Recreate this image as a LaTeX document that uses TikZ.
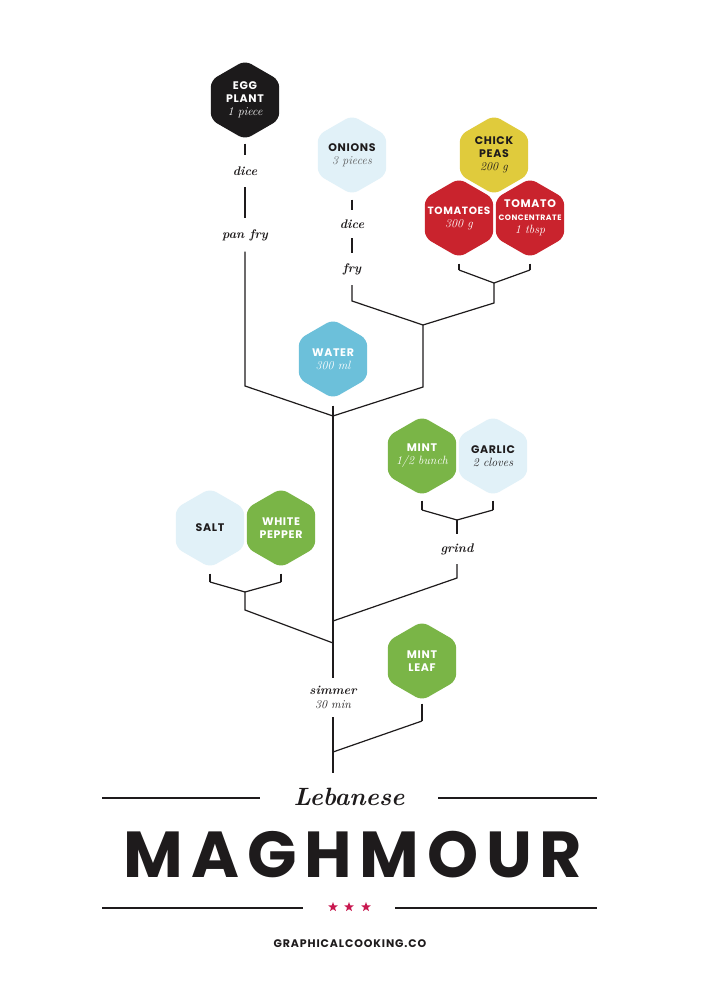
\documentclass[tikz,border=0pt]{standalone}
\usepackage{fontspec}
\usetikzlibrary{shapes.geometric}
\newfontfamily\capfont{Poppins}[LetterSpace=6]
\newfontfamily\titlefont{Poppins}[LetterSpace=12]
\newfontfamily\webfont{Poppins}[LetterSpace=8]
\definecolor{ink}{HTML}{1E1B1C}
\definecolor{eggc}{HTML}{1C1A1B}
\definecolor{paleblue}{HTML}{E1F1F8}
\definecolor{yellowc}{HTML}{E0CB3C}
\definecolor{redc}{HTML}{C9232D}
\definecolor{waterc}{HTML}{6CC0DA}
\definecolor{greenc}{HTML}{7AB547}
\definecolor{grayc}{HTML}{5A5A5A}
\definecolor{crim}{HTML}{C8174F}
\tikzset{
  hex/.style={regular polygon, regular polygon sides=6, shape border rotate=30,
    minimum size=79pt, inner sep=0pt, rounded corners=7pt, draw=none},
  hexlab/.style={align=center, inner sep=0pt, font=\capfont\bfseries\fontsize{11}{13}\selectfont},
  act/.style={inner sep=0pt, minimum height=30pt, font=\bfseries\itshape\fontsize{12.5}{14}\selectfont, text=ink},
  wire/.style={draw=ink, line width=1.2pt},
}
\newcommand{\amt}[1]{{\normalfont\itshape\mdseries\fontsize{12}{13}\selectfont #1}}
\begin{document}
\begin{tikzpicture}[x=1pt, y=-1pt]
\useasboundingbox[fill=white] (0,0) rectangle (707,1000);

% ---------- hexagons ----------
\node[hex, fill=eggc, label={[hexlab, text=white]center:EGG\\PLANT\\\amt{1 piece}}] (egg) at (245,100) {};
\node[hex, fill=paleblue, label={[hexlab, text=ink]center:ONIONS\\\textcolor{grayc}{\amt{3 pieces}}}] (onion) at (352,155) {};
\node[hex, fill=yellowc, label={[hexlab, text=ink]center:CHICK\\PEAS\\\amt{200 g}}] (chick) at (494,155) {};
\node[hex, fill=redc, label={[hexlab, text=white]center:{\fontsize{10.5}{13}\selectfont TOMATOES}\\\amt{300 g}}] (tom) at (459,218) {};
\node[hex, fill=redc, label={[hexlab, text=white]center:TOMATO\\{\fontsize{7.8}{10}\selectfont CONCENTRATE}\\\amt{1 tbsp}}] (tomc) at (530,218) {};
\node[hex, fill=waterc, label={[hexlab, text=white]center:WATER\\\amt{300 ml}}] (water) at (333,359) {};
\node[hex, fill=greenc, label={[hexlab, text=white]center:MINT\\\amt{1/2 bunch}}] (mint) at (422,456) {};
\node[hex, fill=paleblue, label={[hexlab, text=ink]center:GARLIC\\\amt{2 cloves}}] (garlic) at (493,456) {};
\node[hex, fill=paleblue, label={[hexlab, text=ink]center:SALT}] (salt) at (210,528) {};
\node[hex, fill=greenc, label={[hexlab, text=white]center:WHITE\\PEPPER}] (pepper) at (281,528) {};
\node[hex, fill=greenc, label={[hexlab, text=white]center:MINT\\LEAF}] (mleaf) at (422,661) {};

% ---------- action labels ----------
\node[act, minimum height=32pt] (eggdice) at (245,171) {dice};
\node[act, minimum height=33pt] (eggfry) at (245,235) {pan fry};
\node[act, minimum height=28pt] (oniondice) at (352,224) {dice};
\node[act, minimum height=32pt] (onionfry) at (352,269) {fry};
\node[act, minimum height=30pt] (grind) at (457,549) {grind};
\node[act, align=center, minimum height=39pt] (simmer) at (333,697.5) {simmer\\\amt{30 min}};

% ---------- junction coordinates ----------
\coordinate (c1) at (245,386);
\coordinate (j1) at (333,416);
\coordinate (c2) at (352,301);
\coordinate (j2) at (423,325);
\coordinate (c3) at (459,270);
\coordinate (c4) at (530,270);
\coordinate (j3) at (494,283);
\coordinate (c5) at (494,303);
\coordinate (c6) at (423,387);
\coordinate (j4) at (333,621);
\coordinate (j5) at (333,643);
\coordinate (c7) at (422,510);
\coordinate (c8) at (493,510);
\coordinate (j7) at (457,520);
\coordinate (c9) at (457,578);
\coordinate (c10) at (210,582);
\coordinate (c11) at (281,582);
\coordinate (j8) at (245,592);
\coordinate (c12) at (245,610);
\coordinate (c13) at (422,721);
\coordinate (j6) at (333,752);
\coordinate (tend) at (333,773);

% ---------- connectors ----------
\draw[wire, shorten <=4pt] (egg) -- (eggdice);
\draw[wire] (eggdice) -- (eggfry);
\draw[wire] (eggfry) -- (c1) -- (j1);
\draw[wire, shorten <=5pt] (onion) -- (oniondice);
\draw[wire] (oniondice) -- (onionfry);
\draw[wire] (onionfry) -- (c2) -- (j2);
\draw[wire, shorten <=6pt] (tom) -- (c3);
\draw[wire] (c3) -- (j3);
\draw[wire, shorten <=6pt] (tomc) -- (c4);
\draw[wire] (c4) -- (j3);
\draw[wire] (j3) -- (c5) -- (j2);
\draw[wire] (j2) -- (c6) -- (j1);
\draw[wire, shorten <=7pt] (water) -- (j1);
\draw[wire] (j1) -- (j4) -- (j5) -- (simmer);
\draw[wire] (simmer) -- (j6) -- (tend);
\draw[wire, shorten <=5pt] (mint) -- (c7);
\draw[wire] (c7) -- (j7);
\draw[wire, shorten <=5pt] (garlic) -- (c8);
\draw[wire] (c8) -- (j7);
\draw[wire] (j7) -- (grind);
\draw[wire] (grind) -- (c9) -- (j4);
\draw[wire, shorten <=6pt] (salt) -- (c10);
\draw[wire] (c10) -- (j8);
\draw[wire, shorten <=6pt] (pepper) -- (c11);
\draw[wire] (c11) -- (j8);
\draw[wire] (j8) -- (c12) -- (j5);
\draw[wire, shorten <=3pt] (mleaf) -- (c13);
\draw[wire] (c13) -- (j6);

% ---------- title block ----------
\node[font=\bfseries\itshape\fontsize{25}{28}\selectfont, text=ink, inner sep=0pt] (leb) at (349,797) {Lebanese};
\coordinate (l1a) at (102,798); \coordinate (l1b) at (260,798);
\coordinate (l2a) at (438,798); \coordinate (l2b) at (597,798);
\draw[wire, line width=1.5pt] (l1a) -- (l1b);
\draw[wire, line width=1.5pt] (l2a) -- (l2b);
\node[font=\titlefont\bfseries\fontsize{65}{72}\selectfont, text=ink, inner sep=0pt] (title) at (353,855) {MAGHMOUR};
\coordinate (l3a) at (102,908); \coordinate (l3b) at (303,908);
\coordinate (l4a) at (395,908); \coordinate (l4b) at (597,908);
\draw[wire, line width=1.5pt] (l3a) -- (l3b);
\draw[wire, line width=1.5pt] (l4a) -- (l4b);
\node[star, star points=5, star point ratio=2.4, fill=crim, inner sep=0pt, minimum size=10pt] (s1) at (333,907) {};
\node[star, star points=5, star point ratio=2.4, fill=crim, inner sep=0pt, minimum size=10pt] (s2) at (349,907) {};
\node[star, star points=5, star point ratio=2.4, fill=crim, inner sep=0pt, minimum size=10pt] (s3) at (366,907) {};
\node[font=\webfont\bfseries\fontsize{11}{13}\selectfont, text=ink, inner sep=0pt] (web) at (350,944) {GRAPHICALCOOKING.CO};
\end{tikzpicture}
\end{document}
